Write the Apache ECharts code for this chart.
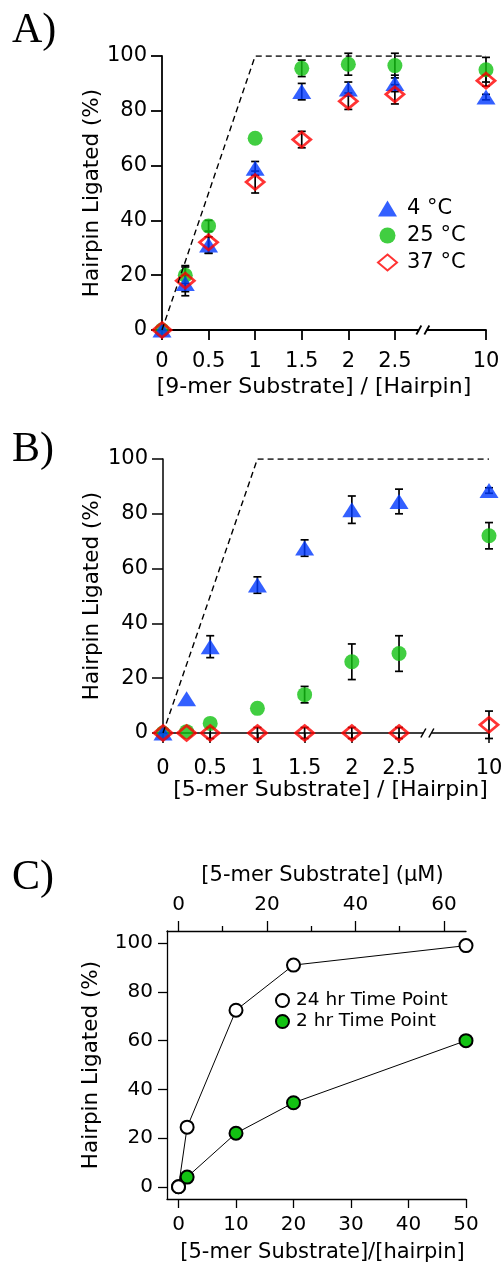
<!DOCTYPE html>
<html><head><meta charset="utf-8">
<script src="https://cdn.jsdelivr.net/npm/echarts@6/dist/echarts.min.js"></script>
<style>html,body{margin:0;padding:0;background:#fff}#c{width:503px;height:1264px}</style>
</head><body><div id="c"></div>
<script>
// ---------- Panel A : 9-mer substrate ----------
const xA = [0, 0.25, 0.5, 1, 1.5, 2, 2.5, 10];
const a4 = [0, 17, 31, 59, 87, 88, 90, 85];
const a4err = [null, 3, 3, 2.5, 3, 2.5, 3, 1];
const a25 = [0, 20, 38, 70, 95.5, 97, 96.5, 95];
const a25err = [null, 3, 2, null, 3, 4, 4.5, 4.5];
const a37 = [0, 18, 32, 54, 69.5, 83.5, 86, 91];
const a37err = [0, 5.5, 4, 4, 3, 3, 3.5, 2];
// ---------- Panel B : 5-mer substrate ----------
const xB = [0, 0.25, 0.5, 1, 1.5, 2, 2.5, 10];
const b4 = [0, 12.5, 31.5, 54, 67.5, 81.5, 84.5, 88.5];
const b4err = [null, null, 4, 3, 3, 5, 4.5, 1];
const b25 = [0, 0.5, 3.5, 9, 14, 26, 29, 72];
const b25err = [null, null, null, null, 3, 6.5, 6.5, 4.8];
const b37 = [0, 0, 0, 0, 0, 0, 0, 3];
const b37err = [0, null, 2, 2, 2, 2, 2, 5];
// theoretical maximum (dashed)
const idealX = [0, 1, 10];
const idealY = [0, 100, 100];
const ratioTicks = [0, 0.5, 1, 1.5, 2, 2.5, 10];
// ---------- Panel C ----------
const xC = [0, 1.5, 10, 20, 50];
const c24 = [0, 24.5, 72.5, 91, 99];
const c2 = [0, 4, 22, 34.5, 60];
const cBottomTicks = [0, 10, 20, 30, 40, 50];
const cLeftTicks = [0, 20, 40, 60, 80, 100];
const cTopTicks = [0, 20, 40, 60];
const cTopMinor = [10, 30, 50];
const uMperRatio = 1.3;

const FONT = 'DejaVu Sans';
const BLUE = '#0038ff', GREEN = '#12c212', RED = '#ff0000';
const BREAK_AT = 3, SHIFT_A = 6.522, SHIFT_B = 6.547;
const dispA = x => x > BREAK_AT ? x - SHIFT_A : x;
const dispB = x => x > BREAK_AT ? x - SHIFT_B : x;
const tickFmt = disp => v => {
  const t = ratioTicks.find(t => Math.abs(disp(t) - v) < 1e-6);
  return t === undefined ? '' : String(t);
};
const txt = (size) => ({fontFamily: FONT, fontSize: size, color: '#000'});

function errSeries(xs, ys, errs, disp, ax) {
  const data = [];
  xs.forEach((x, i) => { if (errs[i] !== null) data.push([disp(x), ys[i], errs[i]]); });
  return {
    type: 'custom', xAxisIndex: ax, yAxisIndex: ax, silent: true, clip: false,
    encode: {x: 0, y: 1}, data,
    renderItem(params, api) {
      const x = api.value(0), y = api.value(1), e = api.value(2);
      const t = api.coord([x, y + e]), b = api.coord([x, y - e]);
      const hw = 4, st = {stroke: '#000', lineWidth: 1.7};
      return {type: 'group', children: [
        {type: 'line', shape: {x1: t[0], y1: t[1], x2: b[0], y2: b[1]}, style: st},
        {type: 'line', shape: {x1: t[0] - hw, y1: t[1], x2: t[0] + hw, y2: t[1]}, style: st},
        {type: 'line', shape: {x1: b[0] - hw, y1: b[1], x2: b[0] + hw, y2: b[1]}, style: st}
      ]};
    }
  };
}
const sym = {
  tri: {symbol: 'triangle', symbolSize: [19, 15], itemStyle: {color: BLUE}},
  cir: {symbol: 'circle', symbolSize: 15, itemStyle: {color: GREEN}},
  dia: {symbol: 'diamond', symbolSize: [18, 15], itemStyle: {color: 'rgba(255,255,255,0)', borderColor: RED, borderWidth: 2.8}}
};
function scat(name, xs, ys, disp, ax, s) {
  return Object.assign({type: 'scatter', name, xAxisIndex: ax, yAxisIndex: ax, clip: false,
    data: xs.map((x, i) => [disp(x), ys[i]])}, JSON.parse(JSON.stringify(s)));
}
function ideal(disp, ax) {
  return {type: 'line', xAxisIndex: ax, yAxisIndex: ax, symbol: 'none', silent: true,
    data: idealX.map((x, i) => [disp(x), idealY[i]]),
    lineStyle: {color: '#000', width: 1.4, type: [6, 4]}};
}
function ratioXAxis(gi, disp, name, lw, margin, gap, pad) {
  return {
    gridIndex: gi, type: 'value', min: 0, max: disp(10),
    axisLine: {show: true, onZero: false, lineStyle: {color: '#000', width: lw}},
    axisTick: {show: true, length: 10, customValues: ratioTicks.map(disp), lineStyle: {color: '#000', width: lw}},
    axisLabel: Object.assign({customValues: ratioTicks.map(disp), formatter: tickFmt(disp), margin}, txt(21)),
    splitLine: {show: false}, nameMoveOverlap: false,
    name, nameLocation: 'middle', nameGap: gap, nameTextStyle: Object.assign({padding: pad}, txt(22))
  };
}
function pctYAxis(gi, lw, gap) {
  return {
    gridIndex: gi, type: 'value', min: 0, max: 100, interval: 20,
    axisLine: {show: true, lineStyle: {color: '#000', width: lw}},
    axisTick: {show: true, length: 11, lineStyle: {color: '#000', width: lw}},
    axisLabel: Object.assign({margin: 15}, txt(21)),
    splitLine: {show: false}, nameMoveOverlap: false,
    name: 'Hairpin Ligated (%)', nameLocation: 'middle', nameRotate: 90, nameGap: gap,
    nameTextStyle: txt(21.5)
  };
}

const chart = echarts.init(document.getElementById('c'), null, {renderer: 'canvas'});
const option = {
  animation: false,
  backgroundColor: '#fff',
  grid: [
    {left: 162, top: 56, width: 324, height: 274, outerBoundsMode: 'none'},
    {left: 163, top: 459, width: 326, height: 274, outerBoundsMode: 'none'},
    {left: 167, top: 931, width: 299, height: 268, outerBoundsMode: 'none'},
    {left: 167, top: 931, width: 299, height: 268, outerBoundsMode: 'none'}
  ],
  xAxis: [
    ratioXAxis(0, dispA, '[9-mer Substrate] / [Hairpin]', 1.8, 21.5, 46, [0, 20, 0, 0]),
    ratioXAxis(1, dispB, '[5-mer Substrate] / [Hairpin]', 1.5, 25, 46, [0, 0, 0, 9]),
    {
      gridIndex: 2, type: 'value', min: -2, max: 50, position: 'bottom',
      axisLine: {show: true, onZero: false, lineStyle: {color: '#000', width: 1.3}},
      axisTick: {show: true, length: 9, customValues: cBottomTicks, lineStyle: {color: '#000', width: 1.3}},
      axisLabel: Object.assign({customValues: cBottomTicks, margin: 16}, txt(20)),
      splitLine: {show: false}, nameMoveOverlap: false,
      name: '[5-mer Substrate]/[hairpin]', nameLocation: 'middle', nameGap: 43.5,
      nameTextStyle: Object.assign({padding: [0, 0, 0, 12]}, txt(21))
    },
    {
      gridIndex: 2, type: 'value', min: -2 * uMperRatio, max: 50 * uMperRatio, position: 'top',
      axisLine: {show: true, onZero: false, lineStyle: {color: '#000', width: 1.3}},
      axisTick: {show: true, length: 10, customValues: cTopTicks, lineStyle: {color: '#000', width: 1.3}},
      axisLabel: Object.assign({customValues: cTopTicks, margin: 16}, txt(20)),
      splitLine: {show: false}, nameMoveOverlap: false,
      name: '[5-mer Substrate] (µM)', nameLocation: 'middle', nameGap: 44.5,
      nameTextStyle: Object.assign({padding: [0, 0, 0, 12]}, txt(21))
    },
    {
      gridIndex: 3, type: 'value', min: -2 * uMperRatio, max: 50 * uMperRatio, position: 'top',
      axisLine: {show: false, onZero: false},
      axisTick: {show: true, length: 5, customValues: cTopMinor, lineStyle: {color: '#000', width: 1.3}},
      axisLabel: {show: false}, splitLine: {show: false}
    }
  ],
  yAxis: [
    pctYAxis(0, 1.8, 58.5),
    pctYAxis(1, 1.5, 59.5),
    {
      gridIndex: 2, type: 'value', min: -5, max: 105,
      axisLine: {show: true, onZero: false, lineStyle: {color: '#000', width: 1.3}},
      axisTick: {show: true, length: 9, customValues: cLeftTicks, lineStyle: {color: '#000', width: 1.3}},
      axisLabel: Object.assign({customValues: cLeftTicks, margin: 14}, txt(20)),
      splitLine: {show: false}, nameMoveOverlap: false,
      name: 'Hairpin Ligated (%)', nameLocation: 'middle', nameRotate: 90, nameGap: 64.5,
      nameTextStyle: txt(21.5)
    },
    {gridIndex: 3, type: 'value', min: -5, max: 105, show: false}
  ],
  legend: [
    {
      data: ['4 °C', '25 °C', '37 °C'], orient: 'vertical', left: 372, top: 193,
      itemWidth: 19, itemHeight: 16, itemGap: 6, selectedMode: false,
      textStyle: Object.assign({padding: [0, 0, 0, 5]}, txt(21))
    },
    {
      data: ['24 hr Time Point', '2 hr Time Point'], orient: 'vertical', left: 270, top: 986,
      icon: 'circle', itemWidth: 13, itemHeight: 13, itemGap: 2, selectedMode: false,
      textStyle: Object.assign({padding: [0, 0, 0, 2]}, txt(18.5))
    }
  ],
  series: [
    ideal(dispA, 0),
    errSeries(xA, a25, a25err, dispA, 0),
    scat('25 °C', xA, a25, dispA, 0, sym.cir),
    errSeries(xA, a4, a4err, dispA, 0),
    scat('4 °C', xA, a4, dispA, 0, sym.tri),
    errSeries(xA, a37, a37err, dispA, 0),
    scat('37 °C', xA, a37, dispA, 0, sym.dia),

    ideal(dispB, 1),
    errSeries(xB, b25, b25err, dispB, 1),
    scat('25 °C B', xB, b25, dispB, 1, sym.cir),
    errSeries(xB, b4, b4err, dispB, 1),
    scat('4 °C B', xB, b4, dispB, 1, sym.tri),
    errSeries(xB, b37, b37err, dispB, 1),
    scat('37 °C B', xB, b37, dispB, 1, sym.dia),

    {
      type: 'line', name: '2 hr Time Point', xAxisIndex: 2, yAxisIndex: 2,
      data: xC.map((x, i) => [x, c2[i]]), symbol: 'circle', symbolSize: 13,
      lineStyle: {color: '#000', width: 1},
      itemStyle: {color: GREEN, borderColor: '#000', borderWidth: 2}
    },
    {
      type: 'line', name: '24 hr Time Point', xAxisIndex: 2, yAxisIndex: 2,
      data: xC.map((x, i) => [x, c24[i]]), symbol: 'circle', symbolSize: 13,
      lineStyle: {color: '#000', width: 1},
      itemStyle: {color: '#fff', borderColor: '#000', borderWidth: 2}
    }
  ]
};
chart.setOption(option);

// decorations: panel letters and axis-break marks
const g = [];
[['A)', 31], ['B)', 450], ['C)', 878]].forEach(([t, y]) => g.push({
  type: 'text', left: 12, top: y - 21, silent: true,
  style: {text: t, font: '42px "Liberation Serif"', fill: '#000'}
}));
[[0, 1.8], [1, 1.5]].forEach(([gi, lw]) => {
  const p = chart.convertToPixel({gridIndex: gi}, [2.8, 0]);
  g.push({type: 'rect', shape: {x: p[0] - 4, y: p[1] - 3, width: 8, height: 6}, style: {fill: '#fff'}, z: 100, silent: true});
  [-4, 4].forEach(d => g.push({type: 'line', z: 101, silent: true,
    shape: {x1: p[0] + d - 2.5, y1: p[1] + 4.5, x2: p[0] + d + 2.5, y2: p[1] - 4.5},
    style: {stroke: '#000', lineWidth: lw}}));
});
chart.setOption({graphic: g});
</script></body></html>
